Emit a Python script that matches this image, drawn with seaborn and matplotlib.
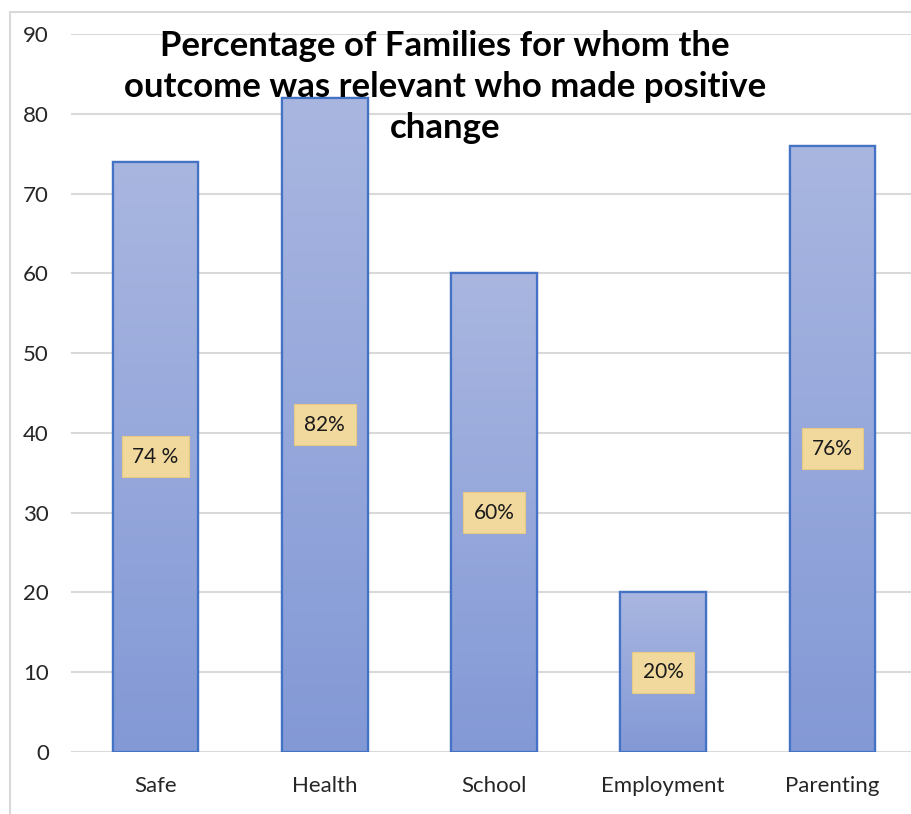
import numpy as np
import pandas as pd
import matplotlib
matplotlib.use("Agg")
import matplotlib.pyplot as plt
import matplotlib.colors as mcolors
from matplotlib.patches import Rectangle
import seaborn as sns

categories = ["Safe", "Health", "School", "Employment", "Parenting"]
values = [74, 82, 60, 20, 76]
value_labels = ["74 %", "82%", "60%", "20%", "76%"]
y_ticks = [0, 10, 20, 30, 40, 50, 60, 70, 80, 90]
title = "Percentage of Families for whom the\noutcome was relevant who made positive\nchange"

sns.set_theme(style="white")
plt.rcParams["font.family"] = ["Lato", "DejaVu Sans"]

W, H = 912, 814
fig = plt.figure(figsize=(W / 100, H / 100), dpi=100)
fig.patch.set_facecolor("white")

# chart-area frame (light grey), runs off the right and bottom edges
fig.add_artist(Rectangle((10 / W, -0.05), 1.2, 1.05 - 12 / H,
                         transform=fig.transFigure, fill=False,
                         edgecolor="#D9D9D9", linewidth=1.5))

left, right = 71 / W, 917 / W
bottom, top = 1 - 752 / H, 1 - 34 / H
ax = fig.add_axes([left, bottom, right - left, top - bottom])

df = pd.DataFrame({"category": categories, "value": values})
sns.barplot(data=df, x="category", y="value", ax=ax, width=0.507,
            color="#94A6DA", edgecolor="#4472C4", linewidth=1.6,
            saturation=1, zorder=3)

ax.set_ylim(0, 90)
ax.set_xlim(-0.5, 4.5)
ax.set_yticks(y_ticks)
ax.set_yticklabels([str(t) for t in y_ticks], fontsize=16, color="#262626")
ax.tick_params(axis="x", labelsize=16, labelcolor="#262626", pad=17, length=0)
ax.tick_params(axis="y", pad=16, length=0)
ax.set_xlabel("")
ax.set_ylabel("")
ax.yaxis.grid(True, color="#D9D9D9", linewidth=1.5, zorder=0)
ax.set_axisbelow(True)
for s in ax.spines.values():
    s.set_visible(False)
ax.set_facecolor("none")

# vertical gradient fill inside each bar: lighter at the top, deeper at the base
cmap = mcolors.LinearSegmentedColormap.from_list("barfill", ["#8399D6", "#A9B6E0"])
grad = np.linspace(0, 1, 256).reshape(-1, 1)
for patch in ax.patches:
    x0, y0 = patch.get_x(), patch.get_y()
    w, h = patch.get_width(), patch.get_height()
    im = ax.imshow(grad, cmap=cmap, aspect="auto", origin="lower",
                   extent=(x0, x0 + w, y0, y0 + h), zorder=3.5,
                   interpolation="bicubic")
    im.set_clip_path(patch)
    edge = Rectangle((x0, y0), w, h, fill=False, edgecolor="#4472C4",
                     linewidth=1.6, zorder=4)
    ax.add_patch(edge)
ax.set_xlim(-0.5, 4.5)
ax.set_ylim(0, 90)

# value labels centred in the bars on a parchment-coloured box
for i, (v, lab) in enumerate(zip(values, value_labels)):
    ax.text(i, v / 2, lab, ha="center", va="center", fontsize=15,
            color="#1a1a1a", zorder=6,
            bbox=dict(boxstyle="square,pad=0.5", facecolor="#F1D99E",
                      edgecolor="#E6C982", linewidth=0.8))

fig.text(445 / W, 1 - 30 / H, title, ha="center", va="top", fontsize=25,
         fontweight="bold", color="black", linespacing=1.35, zorder=10)

fig.savefig("out.png", dpi=100, facecolor="white")
